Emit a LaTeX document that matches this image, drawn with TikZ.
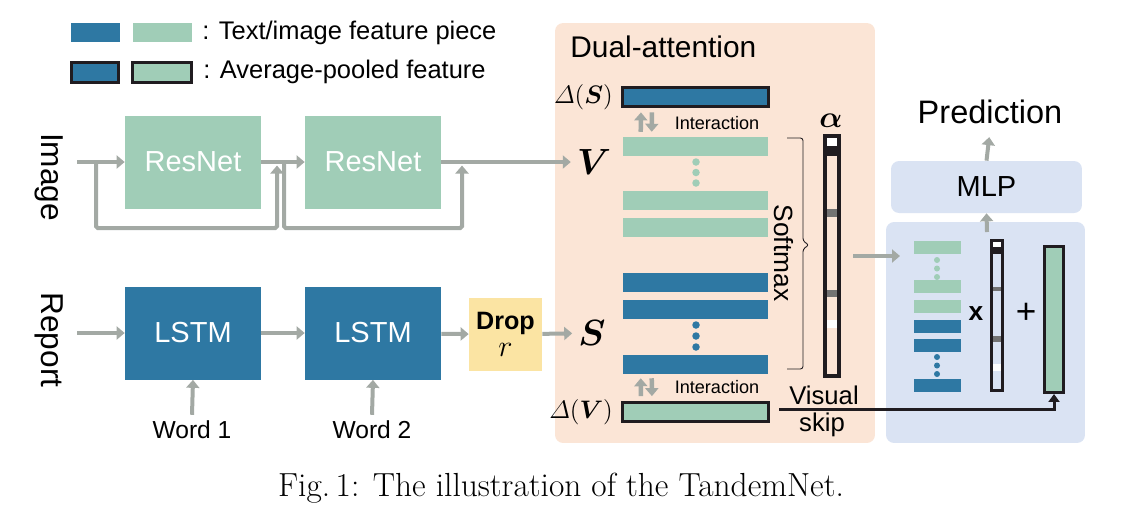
\documentclass[tikz,border=0pt]{standalone}
\usepackage[no-math]{fontspec}
\usepackage{amsmath,bm}
\newfontfamily\arialfont{Liberation Sans}
\usetikzlibrary{arrows.meta}

\definecolor{featgreen}{HTML}{A0CDB7}
\definecolor{featblue}{HTML}{2E78A3}
\definecolor{peach}{HTML}{FBE5D6}
\definecolor{fusebg}{HTML}{DAE3F3}
\definecolor{dropyel}{HTML}{FBE4A3}
\definecolor{arrgray}{HTML}{A3A9A4}
\definecolor{inkdark}{HTML}{201C20}

\newcommand\fsz[1]{\fontsize{#1}{#1}\selectfont}

\tikzset{
  sans/.style={font=\arialfont\fsz{#1}},
  block/.style={inner sep=0pt, minimum width=2.72cm, minimum height=1.86cm,
    text=white, sans=16.5},
  panel/.style={rounded corners=0.16cm, inner sep=0pt},
  gbar/.style={fill=featgreen, inner sep=0pt, minimum width=2.9cm, minimum height=0.38cm},
  bbar/.style={gbar, fill=featblue},
  pooled/.style={draw=inkdark, line width=0.06cm, inner sep=0pt},
  minibar/.style={fill=featgreen, inner sep=0pt, minimum width=0.94cm, minimum height=0.26cm},
  garrow/.style={draw=arrgray, line width=0.08cm, -{Triangle[length=0.16cm,width=0.26cm]}},
  iarrow/.style={draw=arrgray, line width=0.09cm, -{Triangle[length=0.16cm,width=0.26cm]}},
  skipline/.style={draw=inkdark, line width=0.06cm, -{Triangle[length=0.16cm,width=0.22cm]}},
}

\begin{document}
\begin{tikzpicture}[x=0.02cm,y=-0.02cm]
\useasboundingbox (0,0) rectangle (1125,522);

% panels
\node[panel, fill=peach, minimum width=6.4cm, minimum height=8.4cm] (dualatt) at (715,233) {};
\node[panel, fill=fusebg, minimum width=3.98cm, minimum height=4.42cm] (fusion) at (985.5,332.5) {};
\node[panel, fill=fusebg, minimum width=3.82cm, minimum height=1.04cm, sans=16.5] (mlp) at (986.5,187) {MLP};
\node[anchor=west, inner sep=0pt, sans=17] (datitle) at (570,47) {Dual-attention};
\node[sans=18.5] (pred) at (990,112) {Prediction};

% legend
\node[gbar, fill=featblue, minimum width=0.98cm] (legb) at (95.5,32.5) {};
\node[gbar, minimum width=1.18cm] (legg) at (162.5,32.5) {};
\node[anchor=west, inner sep=0pt, sans=14.5] (legtxt) at (202,33) {: Text/image feature piece};
\node[pooled, fill=featblue, minimum width=0.96cm, minimum height=0.4cm] (legpb) at (95,72.5) {};
\node[pooled, fill=featgreen, minimum width=1.18cm, minimum height=0.4cm] (legpg) at (162,72.5) {};
\node[anchor=west, inner sep=0pt, sans=14.5] (legptxt) at (203,72) {: Average-pooled feature};

% image branch
\node[rotate=-90, sans=18] (imglab) at (49,177) {Image};
\node[block, fill=featgreen] (res1) at (193,162) {ResNet};
\node[block, fill=featgreen] (res2) at (373,162) {ResNet};
\node[font=\fsz{21}] (vin) at (594,162) {$\bm{V}$};
\coordinate (imgin) at (77,162);
\coordinate (skip1a) at (96,162);
\coordinate (skip1b) at (277,162);
\coordinate (skip2a) at (284,162);
\coordinate (skip2b) at (462,162);
\draw[garrow] (imgin) -- (res1);
\draw[garrow] (res1) -- (res2);
\draw[garrow] (res2) -- (vin);
\draw[garrow, rounded corners=1pt, shorten >=2pt] (skip1a) -- ++(0,66) -| (skip1b);
\draw[garrow, rounded corners=1pt, shorten >=2pt] (skip2a) -- ++(0,66) -| (skip2b);

% report branch
\node[rotate=-90, sans=18] (replab) at (49,340) {Report};
\node[block, fill=featblue] (lstm1) at (193,333) {LSTM};
\node[block, fill=featblue] (lstm2) at (373,333) {LSTM};
\node[fill=dropyel, inner sep=0pt, minimum width=1.46cm, minimum height=1.46cm,
  align=center, font=\arialfont\fsz{14.3}\bfseries] (drop) at (505.5,334.5)
  {Drop\\[1pt]{\fsz{17}$r$}};
\node[font=\fsz{21}] (sin) at (592,333) {$\bm{S}$};
\node[sans=14] (word1) at (192,430) {Word 1};
\node[sans=14] (word2) at (372,430) {Word 2};
\coordinate (repin) at (77,333);
\draw[garrow] (repin) -- (lstm1);
\draw[garrow] (lstm1) -- (lstm2);
\draw[garrow] (lstm2) -- (drop);
\draw[garrow] (drop) -- (sin);
\draw[garrow] (word1.north) -- (lstm1.south);
\draw[garrow] (word2.north) -- (lstm2.south);

% dual attention
\node[pooled, fill=featblue, minimum width=2.92cm, minimum height=0.38cm] (ds) at (695.5,97) {};
\node[pooled, fill=featgreen, minimum width=2.92cm, minimum height=0.38cm] (dv) at (695.5,411.5) {};
\node[anchor=east, font=\fsz{13.5}] (dslab) at (619,97) {$\varDelta(\bm{S})$};
\node[anchor=east, font=\fsz{13.5}] (dvlab) at (619,412) {$\varDelta(\bm{V})$};
\node[gbar] (vbar1) at (695.5,146) {};
\node[gbar] (vbar2) at (695.5,200) {};
\node[gbar] (vbar3) at (695.5,227.5) {};
\node[bbar] (sbar1) at (695.5,282) {};
\node[bbar] (sbar2) at (695.5,309.5) {};
\node[bbar] (sbar3) at (695.5,364) {};
\foreach \yy in {162,172.5,183} \fill[featgreen] (696,\yy) circle (0.075cm);
\foreach \yy in {325,336,347} \fill[featblue] (696,\yy) circle (0.075cm);
\node[sans=10.3] (inter1) at (717,123) {Interaction};
\node[sans=10.3] (inter2) at (717,387) {Interaction};
\draw[iarrow, shorten <=2.5pt, shorten >=2.5pt] ([xshift=0.36cm]vbar1.north west) -- ([xshift=0.4cm]ds.south west);
\draw[iarrow, shorten <=2.5pt, shorten >=2.5pt] ([xshift=0.62cm]ds.south west) -- ([xshift=0.58cm]vbar1.north west);
\draw[iarrow, shorten <=2.5pt, shorten >=2.5pt] ([xshift=0.4cm]dv.north west) -- ([xshift=0.36cm]sbar3.south west);
\draw[iarrow, shorten <=2.5pt, shorten >=2.5pt] ([xshift=0.58cm]sbar3.south west) -- ([xshift=0.62cm]dv.north west);

% softmax brace
\draw[inkdark, line width=0.5pt, rounded corners=1.5pt]
  (787,138) -- (803,138) -- (803,241) -- (809,245) -- (803,249) -- (803,369) -- (787,369);
\node[rotate=-90, sans=15] (softmax) at (784,253) {Softmax};

% attention weights
\fill[white] (827,138) rectangle (837,146);
\fill[inkdark] (827,146) rectangle (837,156);
\fill[black!55] (827,209) rectangle (837,217);
\fill[black!55] (827,290) rectangle (837,297);
\fill[white] (827,320) rectangle (837,328);
\node[draw=inkdark, line width=0.08cm, inner sep=0pt, minimum width=0.28cm,
  minimum height=4.8cm] (alpha) at (832,256) {};
\node[font=\fsz{17}] (alphalab) at (831,121) {$\bm{\alpha}$};

% visual skip
\node[sans=14.6] (visual) at (824,395) {Visual};
\node[sans=14.6] (skip) at (822,425) {skip};

% fusion
\coordinate (fusein) at (900,256);
\draw[garrow, shorten <=0.24cm] (alpha.east) -- (fusein);
\node[minibar] (fg1) at (937.5,247.5) {};
\node[minibar] (fg2) at (937.5,286.5) {};
\node[minibar] (fg3) at (937.5,306.5) {};
\node[minibar, fill=featblue] (fb1) at (937.5,326.5) {};
\node[minibar, fill=featblue] (fb2) at (937.5,345.5) {};
\node[minibar, fill=featblue] (fb3) at (937.5,385.5) {};
\foreach \yy in {260,268.5,277} \fill[featgreen] (937,\yy) circle (0.06cm);
\foreach \yy in {357,365.5,374} \fill[featblue] (937,\yy) circle (0.06cm);
\node[font=\arialfont\fsz{15}\bfseries] (times) at (976,314) {x};
\fill[white] (993,242) rectangle (1001,247);
\fill[inkdark] (993,247) rectangle (1001,254);
\fill[black!55] (993,287) rectangle (1001,291);
\fill[black!55] (993,336) rectangle (1001,342);
\fill[white] (993,364) rectangle (1001,371);
\node[draw=inkdark, line width=0.06cm, inner sep=0pt, minimum width=0.22cm,
  minimum height=3.0cm] (alphab) at (997,315.5) {};
\node[sans=20] (plus) at (1026,313) {+};
\node[pooled, fill=featgreen, minimum width=0.38cm, minimum height=2.92cm] (bigbar) at (1054,319.5) {};
\coordinate (visl) at (779,409);
\draw[skipline] (visl) -| (bigbar.south);
\coordinate (fuseout) at (987,232);
\draw[garrow] (fuseout) -- (mlp.south);
\draw[garrow, shorten >=4pt] (mlp.north) -- (pred.south);

% caption
\node[font=\fsz{19}] (caption) at (561,488) {Fig.\,1: The illustration of the TandemNet.};
\end{tikzpicture}
\end{document}
